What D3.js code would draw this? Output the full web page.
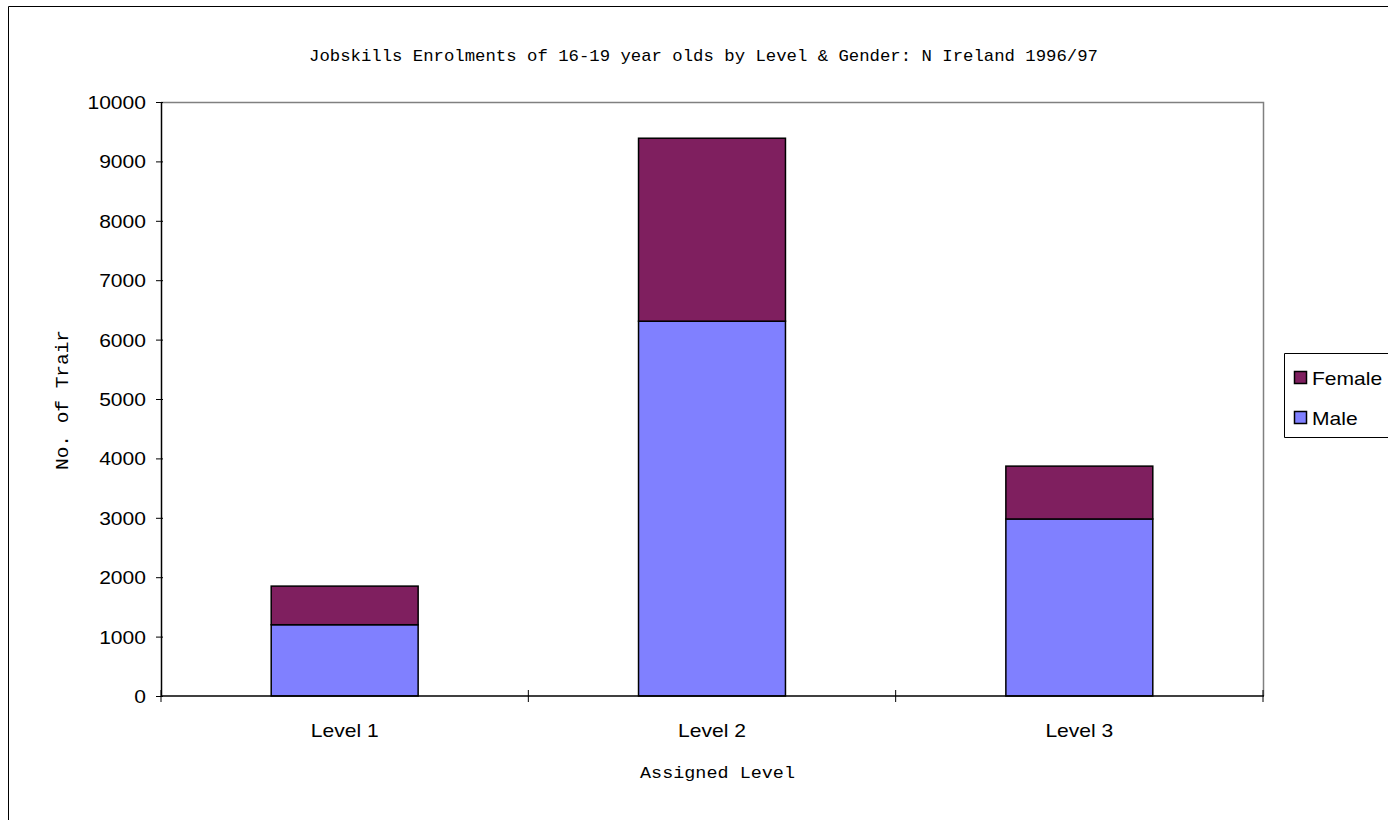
<!DOCTYPE html>
<html>
<head>
<meta charset="utf-8">
<script src="https://cdn.jsdelivr.net/npm/d3@7"></script>
<style>
  html, body { margin: 0; padding: 0; background: #fff; }
  svg { display: block; }
</style>
</head>
<body>
<svg id="chart" width="1388" height="820"></svg>
<script>
// Jobskills enrolments, 16-19 year olds, by level and gender
const categories = ["Level 1", "Level 2", "Level 3"];
const maleValues = [1200, 6310, 2980];
const femaleValues = [650, 3080, 890];
const seriesNames = ["Male", "Female"];
const yTicks = [0, 1000, 2000, 3000, 4000, 5000, 6000, 7000, 8000, 9000, 10000];

const colors = { Male: "#8080ff", Female: "#7f1f5f" };

const svg = d3.select("#chart");
const W = 1388, H = 820;
const sans = "'Liberation Sans', Arial, sans-serif";
const mono = "'Liberation Mono', 'Courier New', monospace";
const stretch = 1.17; // labels are drawn slightly wide

// outer chart frame (runs off the right and bottom edges)
svg.append("path")
  .attr("d", `M8.5,${H + 5} V6.5 H${W + 5}`)
  .attr("fill", "none").attr("stroke", "#000").attr("stroke-width", 1);

const plot = { left: 161, right: 1263, top: 102, bottom: 696 };

const x = d3.scaleBand().domain(categories)
  .range([plot.left, plot.right]).paddingInner(0.6).paddingOuter(0.3);
const xEdge = d3.scaleLinear().domain([0, categories.length]).range([plot.left, plot.right]);
const y = d3.scaleLinear().domain([0, 10000]).range([plot.bottom, plot.top]);

// plot-area border (top and right)
svg.append("path")
  .attr("d", `M${plot.left},${plot.top + 0.5} H${plot.right + 0.5} V${plot.bottom}`)
  .attr("fill", "none").attr("stroke", "#808080").attr("stroke-width", 1.5);

// stacked data
const rows = categories.map((c, i) => ({ category: c, Male: maleValues[i], Female: femaleValues[i] }));
const stacked = d3.stack().keys(seriesNames)(rows);

svg.append("g").selectAll("g")
  .data(stacked).join("g")
  .attr("fill", d => colors[d.key])
  .selectAll("rect")
  .data(d => d).join("rect")
  .attr("x", d => x(d.data.category))
  .attr("y", d => y(d[1]))
  .attr("width", x.bandwidth())
  .attr("height", d => y(d[0]) - y(d[1]))
  .attr("stroke", "#000").attr("stroke-width", 1.5);

// y axis
const yAxis = d3.axisLeft(y).tickValues(yTicks).tickSizeInner(5).tickSizeOuter(0).tickFormat(d3.format("d"));
const gy = svg.append("g").attr("transform", `translate(${plot.left},0)`).call(yAxis);
gy.select(".domain").attr("stroke", "#000").attr("stroke-width", 1.5);
gy.selectAll(".tick line").attr("stroke", "#000").attr("x1", 2).attr("x2", -5);
gy.selectAll(".tick text")
  .attr("x", null)
  .attr("dy", "0.36em")
  .attr("transform", `translate(-15,0) scale(${stretch},1)`)
  .attr("font-family", sans)
  .attr("font-size", 18).attr("fill", "#000");

// x axis line with boundary ticks between categories
svg.append("line")
  .attr("x1", plot.left).attr("x2", plot.right + 1)
  .attr("y1", plot.bottom).attr("y2", plot.bottom)
  .attr("stroke", "#000").attr("stroke-width", 1.5);
svg.append("g").selectAll("line")
  .data(d3.range(categories.length + 1)).join("line")
  .attr("x1", d => xEdge(d)).attr("x2", d => xEdge(d))
  .attr("y1", plot.bottom - 6).attr("y2", plot.bottom + 6)
  .attr("stroke", "#000").attr("stroke-width", 1);

svg.append("g").selectAll("text")
  .data(categories).join("text")
  .attr("transform", d => `translate(${x(d) + x.bandwidth() / 2},737) scale(${stretch},1)`)
  .attr("text-anchor", "middle")
  .attr("font-family", sans)
  .attr("font-size", 18).attr("fill", "#000")
  .text(d => d);

// titles
svg.append("text")
  .attr("x", 309).attr("y", 61)
  .attr("font-family", mono).attr("font-size", 17)
  .attr("textLength", 789).attr("lengthAdjust", "spacingAndGlyphs")
  .text("Jobskills Enrolments of 16-19 year olds by Level & Gender: N Ireland 1996/97");

svg.append("text")
  .attr("x", 640).attr("y", 778)
  .attr("font-family", mono).attr("font-size", 17)
  .attr("textLength", 155).attr("lengthAdjust", "spacingAndGlyphs")
  .text("Assigned Level");

svg.append("text")
  .attr("transform", "translate(68,400) rotate(-90)")
  .attr("text-anchor", "middle")
  .attr("font-family", mono).attr("font-size", 18)
  .attr("textLength", 140).attr("lengthAdjust", "spacingAndGlyphs")
  .text("No. of Trair");

// legend
const legend = svg.append("g");
legend.append("path")
  .attr("d", `M${W + 5},353.5 H1284.5 V437.5 H${W + 5}`)
  .attr("fill", "#fff").attr("stroke", "#000").attr("stroke-width", 1);
const legendItems = ["Female", "Male"];
legend.selectAll("g")
  .data(legendItems).join("g")
  .attr("transform", (d, i) => `translate(1294,${371 + i * 40})`)
  .each(function (d) {
    const g = d3.select(this);
    g.append("rect").attr("x", 0.5).attr("y", 0.5).attr("width", 12).attr("height", 12)
      .attr("fill", colors[d]).attr("stroke", "#000").attr("stroke-width", 1.5);
    g.append("text")
      .attr("transform", `translate(18,14) scale(${stretch},1)`)
      .attr("font-family", sans)
      .attr("font-size", 18).attr("fill", "#000")
      .text(d);
  });
</script>
</body>
</html>
